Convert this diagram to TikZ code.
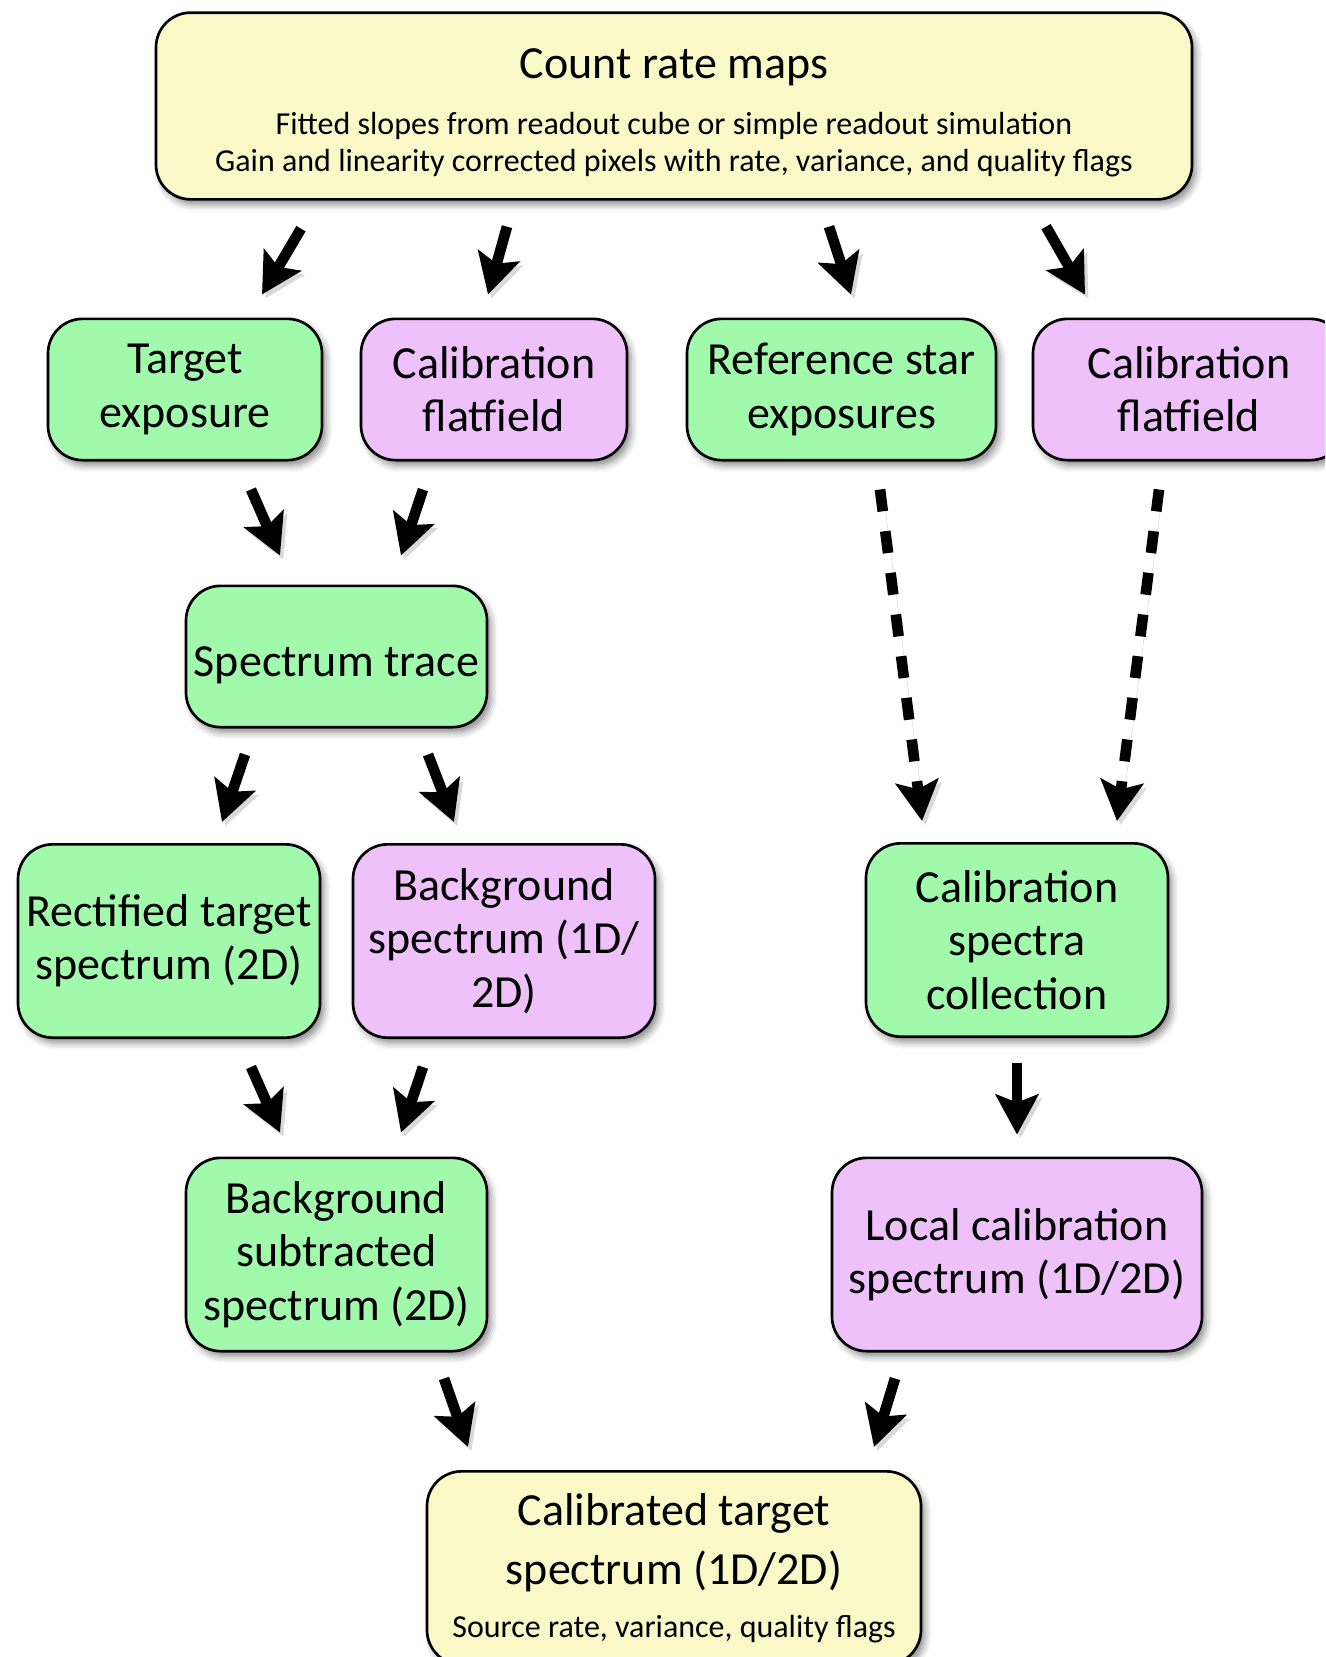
\documentclass[tikz,border=0pt]{standalone}
\usepackage{fontspec}
\setmainfont{Carlito}
\usepackage{tikz}
\usetikzlibrary{arrows.meta,calc,shadows.blur}

\definecolor{boxyellow}{RGB}{251,248,200}
\definecolor{boxgreen}{RGB}{161,250,172}
\definecolor{boxpurple}{RGB}{238,193,251}

\newcommand{\boxfont}{\fontsize{34.5}{40}\selectfont}
\newcommand{\notefont}{\fontsize{24}{28}\selectfont}

\tikzset{
  stagebox/.style={draw=black, line width=2pt, rounded corners=26pt, align=center,
    inner sep=0pt, font=\boxfont,
    blur shadow={shadow xshift=3pt, shadow yshift=-4pt, shadow blur radius=5pt, shadow opacity=45}},
  shortbox/.style={stagebox, minimum height=106pt, execute at begin node={\rule{0pt}{35pt}}},
  tallbox/.style={stagebox, minimum height=145pt, execute at begin node={\rule{0pt}{36pt}}},
  flowarrow/.style={line width=8pt, -{Stealth[length=30pt, width=32pt, inset=6pt]},
    preaction={draw=black!15, transform canvas={xshift=2.5pt, yshift=-3pt}}},
  dasharrow/.style={flowarrow, dash pattern=on 16.5pt off 15pt}
}

\begin{document}
\begin{tikzpicture}[x=0.75pt,y=0.75pt,yscale=-1,xscale=1]
\path[use as bounding box, clip] (0,0) rectangle (1325,1657);

%Shape: Rounded Rectangle [count rate maps]
\node[stagebox, fill=boxyellow, minimum width=777pt, minimum height=140pt, font=\notefont] (countmaps) at (674,106)
  {\rule{0pt}{33pt}{\boxfont Count rate maps}\\[14pt]
   Fitted slopes from readout cube or simple readout simulation\\
   Gain and linearity corrected pixels with rate, variance, and quality flags};

%Shape: Rounded Rectangle [second row]
\node[shortbox, fill=boxgreen, minimum width=205.5pt] (target) at (185,389.5) {Target\\exposure};
\node[shortbox, fill=boxpurple, minimum width=199.5pt] (flatleft) at (494,389.5) {Calibration\\flatfield};
\node[shortbox, fill=boxgreen, minimum width=231.75pt] (refstar) at (841.5,389.5) {Reference star\\exposures};
\node[shortbox, fill=boxpurple, minimum width=234pt] (flatright) at (1189,389.5) {Calibration\\flatfield};

%Shape: Rounded Rectangle [trace]
\node[shortbox, fill=boxgreen, minimum width=225.75pt] (trace) at (336.5,656.5) {Spectrum trace};

%Shape: Rounded Rectangle [fourth row]
\node[tallbox, fill=boxgreen, minimum width=226.5pt] (rectified) at (169,941) {Rectified target\\spectrum (2D)};
\node[tallbox, fill=boxpurple, minimum width=226.5pt] (background) at (504,941) {Background\\spectrum (1D/\\2D)};
\node[tallbox, fill=boxgreen, minimum width=226.5pt] (calcollect) at (1017,940) {Calibration\\spectra\\collection};

%Shape: Rounded Rectangle [fifth row]
\node[tallbox, fill=boxgreen, minimum width=225.75pt] (bgsub) at (336.5,1254.5) {Background\\subtracted\\spectrum (2D)};
\node[tallbox, fill=boxpurple, minimum width=277.5pt] (localcal) at (1017,1254.5) {Local calibration\\spectrum (1D/2D)};

%Shape: Rounded Rectangle [result]
\node[stagebox, fill=boxyellow, minimum width=370.5pt, minimum height=145pt, font=\notefont] (calibrated) at (674,1568)
  {{\boxfont Calibrated target}\\[12pt]
   {\boxfont spectrum (1D/2D)}\\[12pt]
   Source rate, variance, quality flags};

%Straight Lines
\draw[flowarrow] ($(countmaps.south)+(-373,28)$) -- ($(target.north)+(77,-23)$);
\draw[flowarrow] ($(countmaps.south)+(-167,26)$) -- ($(flatleft.north)+(-6,-23)$);
\draw[flowarrow] ($(countmaps.south)+(155,26)$) -- ($(refstar.north)+(9.5,-23)$);
\draw[flowarrow] ($(countmaps.south)+(372,26)$) -- ($(flatright.north)+(-104,-23)$);

\draw[flowarrow] ($(target.south)+(66,28)$) -- ($(trace.north)+(-56.5,-29)$);
\draw[flowarrow] ($(flatleft.south)+(-71,28)$) -- ($(trace.north)+(64.5,-29)$);
\draw[dasharrow] ($(refstar.south)+(38.5,28)$) -- ($(calcollect.north)+(-95,-21)$);
\draw[dasharrow] ($(flatright.south)+(-30,28)$) -- ($(calcollect.north)+(100,-21)$);

\draw[flowarrow] ($(trace.south)+(-91.5,26)$) -- ($(rectified.north)+(53,-21)$);
\draw[flowarrow] ($(trace.south)+(91.5,26)$) -- ($(background.north)+(-50,-21)$);

\draw[flowarrow] ($(rectified.south)+(82,28)$) -- ($(bgsub.north)+(-56.5,-24)$);
\draw[flowarrow] ($(background.south)+(-81,28)$) -- ($(bgsub.north)+(64.5,-24)$);
\draw[flowarrow] ($(calcollect.south)+(0,25)$) -- ($(localcal.north)+(0,-22)$);

\draw[flowarrow] ($(bgsub.south)+(107.5,26)$) -- ($(calibrated.north)+(-206,-23)$);
\draw[flowarrow] ($(localcal.south)+(-122,26)$) -- ($(calibrated.north)+(200,-23)$);

\end{tikzpicture}
\end{document}
